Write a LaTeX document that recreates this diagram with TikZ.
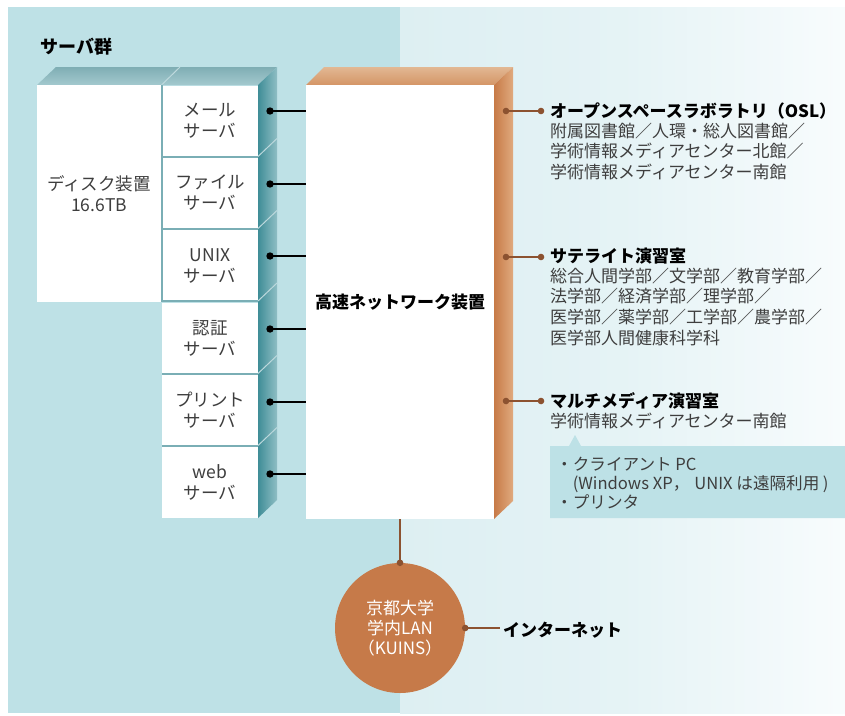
\documentclass[tikz,border=0pt]{standalone}
\usepackage{fontspec}
\setmainfont{Noto Sans CJK JP}
\definecolor{leftbg}{HTML}{BEE1E6}
\definecolor{rightbgA}{HTML}{DDEFF2}
\definecolor{rightbgB}{HTML}{F8FCFD}
\definecolor{tealA}{HTML}{3F8D97}
\definecolor{tealB}{HTML}{8FBEC4}
\definecolor{tealtopA}{HTML}{7FAEB4}
\definecolor{tealtopB}{HTML}{A3C9CE}
\definecolor{tealsep}{HTML}{7AAEB5}
\definecolor{orA}{HTML}{C77A47}
\definecolor{orB}{HTML}{E0AA7E}
\definecolor{ortopA}{HTML}{E2B893}
\definecolor{ortopB}{HTML}{D49566}
\definecolor{circ}{HTML}{C67A49}
\definecolor{brownl}{HTML}{8C5230}
\definecolor{callout}{HTML}{BDE1E6}
\definecolor{textgrey}{HTML}{3E3E3E}
\begin{document}
\begin{tikzpicture}[x=1pt,y=-1pt,
  body/.style={text=textgrey, font=\fontsize{17}{20.7}\selectfont, inner sep=0pt, align=left},
  hdr/.style={text=black, font=\fontsize{17}{20.7}\selectfont\bfseries, inner sep=0pt},
  srv/.style={fill=white, minimum width=96pt, minimum height=71pt, inner sep=0pt, align=center, text=textgrey, font=\fontsize{17.5}{21}\selectfont},
  blackdot/.style={fill=black},
  brownline/.style={draw=brownl, line width=2.3pt},
  blackline/.style={draw=black, line width=2.8pt}]
\useasboundingbox (0,0) rectangle (845,715);
% backgrounds
\fill[white] (0,0) rectangle (845,715);
\fill[leftbg] (8,7) rectangle (400,713);
\shade[left color=rightbgA, right color=rightbgB, middle color=rightbgA!70!rightbgB] (400,7) rectangle (845,713);

\node[hdr, anchor=west, font=\fontsize{18}{20}\selectfont\bfseries] (grp) at (40,47) {サーバ群};

% server block 3D faces
\shade[top color=tealtopA, bottom color=tealtopB] (37,85) -- (56,67) -- (277,67) -- (258,85) -- cycle;
\draw[tealtopB!70!white, line width=1pt] (161.5,85) -- (180,67);
\shade[left color=tealA, right color=tealB] (258,85) -- (277,67) -- (277,500) -- (258,518) -- cycle;

% disk and servers
\node[fill=white, minimum width=124pt, minimum height=217pt, inner sep=0pt, align=center, text=textgrey, font=\fontsize{17.5}{21}\selectfont] (disk) at (99,193.5) {ディスク装置\\16.6TB};
\node[srv] (mail) at (210,121) {メール\\サーバ};
\node[srv] (file) at (210,193) {ファイル\\サーバ};
\node[srv] (unix) at (210,265.5) {UNIX\\サーバ};
\node[srv] (auth) at (210,338) {認証\\サーバ};
\node[srv] (prnt) at (210,410) {プリント\\サーバ};
\node[srv] (web) at (210,482.5) {web\\サーバ};
\draw[tealsep, line width=2pt] (161.5,85) -- (161.5,302);
\foreach \yy in {156.5,228.5,301,373.5,445.5}{
  \draw[tealsep, line width=2pt] (162,\yy) -- (258,\yy);
  \draw[tealB!60!white, line width=1pt] (258,\yy) -- (277,\yy-18);
}

% network device
\shade[top color=ortopA, bottom color=ortopB] (306,85) -- (324,67) -- (513,67) -- (494,85) -- cycle;
\shade[left color=orA, right color=orB] (494,85) -- (513,67) -- (513,501) -- (494,519) -- cycle;
\node[fill=white, minimum width=188pt, minimum height=434pt, inner sep=0pt, font=\fontsize{17}{20}\selectfont\bfseries] (net) at (400,302) {高速ネットワーク装置};

% server connectors
\foreach \nm/\yy in {p1/111, p2/184, p3/256, p4/329, p5/402, p6/474}{
  \coordinate (\nm) at (270,\yy);
  \draw[blackline] (\nm) -- (\nm -| net.west);
  \fill[blackdot] (\nm) circle (3.7pt);
}

% right connectors
\foreach \nm/\yy in {1/111, 2/257, 3/401}{
  \coordinate (qa\nm) at (506,\yy);
  \coordinate (qb\nm) at (541,\yy);
  \draw[brownline] (qa\nm) -- (qb\nm);
  \fill[brownl] (qa\nm) circle (3.3pt);
  \fill[brownl] (qb\nm) circle (3.3pt);
}

\node[hdr, anchor=west] (osl) at (550,111) {オープンスペースラボラトリ（OSL）};
\node[body, anchor=north west] (oslb) at (550,122.5) {附属図書館／人環・総人図書館／\\学術情報メディアセンター北館／\\学術情報メディアセンター南館};

\node[hdr, anchor=west] (sat) at (550,256) {サテライト演習室};
\node[body, anchor=north west] (satb) at (550,267.5) {総合人間学部／文学部／教育学部／\\法学部／経済学部／理学部／\\医学部／薬学部／工学部／農学部／\\医学部人間健康科学科};

\node[hdr, anchor=west] (mm) at (550,401) {マルチメディア演習室};
\node[body, anchor=north west] (mmb) at (550,412.5) {学術情報メディアセンター南館};

% callout
\fill[callout] (550,446) -- (569,446) -- (575,435) -- (581,446) -- (845,446) -- (845,518) -- (550,518) -- cycle;
\node[body, anchor=north west, font=\fontsize{16.6}{19}\selectfont] (clb) at (556,457) {・クライアント PC\\\hspace*{1em}(Windows XP，\hspace{0.3em}UNIX は遠隔利用\hspace{0.2em})\\・プリンタ};

% LAN circle
\node[circle, fill=circ, minimum size=130pt, inner sep=0pt, align=center, text=white, font=\fontsize{17}{20}\selectfont] (lan) at (400,628) {京都大学\\学内LAN\\（KUINS）};
\draw[draw=brownl, line width=2.2pt] (net.south) -- (lan.north);
\fill[brownl] (lan.north) circle (3.3pt);
\coordinate (inet) at (500,628);
\draw[brownline] (lan.east) -- (inet);
\fill[brownl] (lan.east) circle (3.3pt);
\node[hdr, anchor=west] (inettxt) at (503,630) {インターネット};
\end{tikzpicture}
\end{document}
